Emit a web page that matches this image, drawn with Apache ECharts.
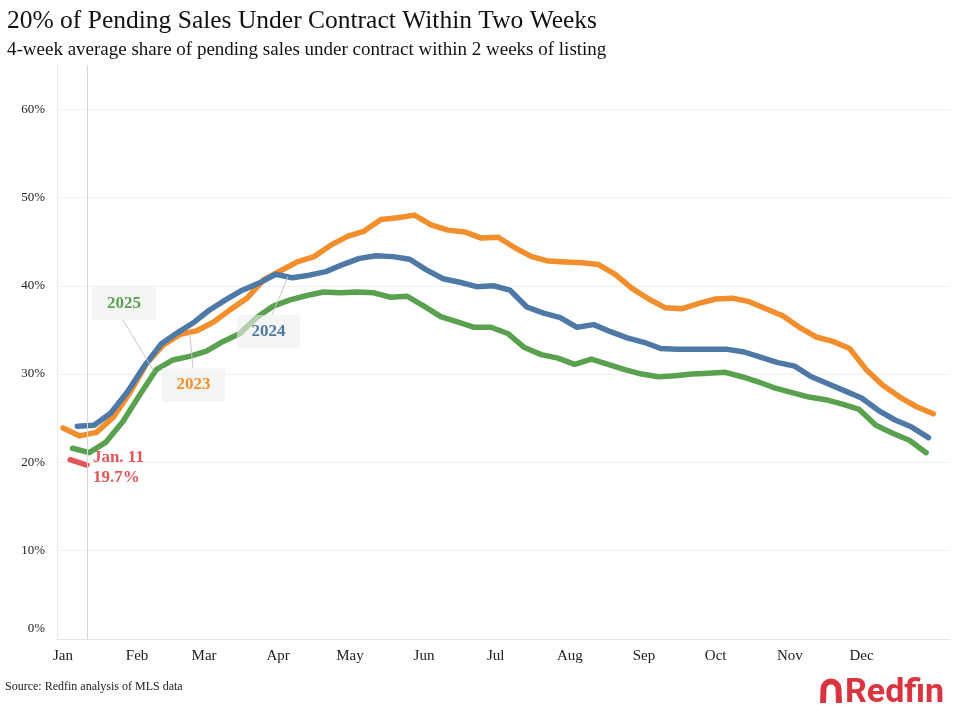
<!DOCTYPE html>
<html>
<head>
<meta charset="utf-8">
<script src="https://cdn.jsdelivr.net/npm/echarts@6/dist/echarts.min.js"></script>
<style>
html,body{margin:0;padding:0;background:#fff;}
#chart{width:955px;height:708px;}
</style>
</head>
<body>
<div id="chart"></div>
<script>
// ---- DATA (weekly, 4-week average share %, week ending Sundays) ----
const monthNames = ['Jan','Feb','Mar','Apr','May','Jun','Jul','Aug','Sep','Oct','Nov','Dec'];
const yTickLabels = ['0%','10%','20%','30%','40%','50%','60%'];

const start2023 = [2023, 0, 1];
const values2023 = [23.9,23.0,23.4,25.1,27.9,31.2,33.3,34.5,34.9,35.9,37.3,38.6,40.7,41.7,42.7,43.3,44.6,45.6,46.2,47.5,47.7,48.0,46.9,46.3,46.1,45.4,45.5,44.3,43.3,42.8,42.7,42.6,42.4,41.3,39.7,38.5,37.5,37.4,38.0,38.5,38.6,38.2,37.4,36.6,35.3,34.2,33.7,32.9,30.5,28.7,27.4,26.3,25.5];

const start2024 = [2024, 0, 7];
const values2024 = [24.1,24.2,25.6,28.0,30.9,33.4,34.7,35.9,37.2,38.4,39.5,40.3,41.3,40.9,41.2,41.6,42.4,43.1,43.4,43.3,43.0,41.8,40.8,40.4,39.9,40.0,39.5,37.6,36.9,36.4,35.3,35.6,34.8,34.1,33.6,32.9,32.8,32.8,32.8,32.8,32.5,31.9,31.3,30.9,29.7,28.9,28.1,27.3,25.9,24.8,24.0,22.8];

const start2025 = [2025, 0, 5];
const values2025 = [21.6,21.1,22.3,24.6,27.6,30.5,31.6,32.0,32.6,33.7,34.6,36.4,37.7,38.4,38.9,39.3,39.2,39.3,39.2,38.7,38.8,37.7,36.5,35.9,35.3,35.3,34.6,33.0,32.2,31.8,31.1,31.7,31.1,30.5,30.0,29.7,29.8,30.0,30.1,30.2,29.7,29.1,28.4,27.9,27.4,27.1,26.6,26.0,24.2,23.3,22.5,21.1];

const start2026 = [2026, 0, 4];
const values2026 = [20.3, 19.7];

const seriesNames = ['2023','2024','2025','2026'];
const seriesColors = ['#f28e2b','#4e79a7','#59a14f','#e15759'];

// ---- helpers ----
const REF_YEAR = 2023;
function weekly(start, values){
  return values.map((v,i)=>{
    const d = new Date(start[0], start[1], start[2] + 7*i);
    const r = new Date(REF_YEAR, d.getMonth(), d.getDate());
    return [r.getTime(), v];
  });
}
const DAY = 86400000;
const xMin = new Date(REF_YEAR-1, 11, 29, 12).getTime();
const xMax = new Date(REF_YEAR+1, 0, 7).getTime();
const jan11 = new Date(REF_YEAR, 0, 11).getTime();

const serif = '"Liberation Serif","Times New Roman",serif';

const chart = echarts.init(document.getElementById('chart'));

const data2023 = weekly(start2023, values2023);
const data2024 = weekly(start2024, values2024);
const data2025 = weekly(start2025, values2025);
const data2026 = weekly(start2026, values2026);

function lineSeries(name, data, color){
  return {
    name, type:'line', data, symbol:'none', smooth:false,
    lineStyle:{color, width:5.5, cap:'round', join:'round'},
    itemStyle:{color}, emphasis:{disabled:true}, animation:false
  };
}

const s0 = lineSeries(seriesNames[0], data2023, seriesColors[0]);
const s1 = lineSeries(seriesNames[1], data2024, seriesColors[1]);
const s2 = lineSeries(seriesNames[2], data2025, seriesColors[2]);
const s3 = lineSeries(seriesNames[3], data2026, seriesColors[3]);
s3.endLabel = {
  show:true, formatter:'Jan. 11\n' + values2026[values2026.length-1] + '%',
  color:seriesColors[3], fontFamily:serif, fontWeight:'bold', fontSize:17, lineHeight:20, distance:6, offset:[0,3]
};
s3.markLine = {
  silent:true, symbol:'none', label:{show:false},
  lineStyle:{color:'#d6d6d6', width:1, type:'solid'},
  data:[{xAxis: jan11}], animation:false
};
s3.z = 1;

const gridColors = ['#efefef','#efefef','#efefef','#efefef','#efefef','#efefef','#efefef','rgba(0,0,0,0)'];

chart.setOption({
  animation:false,
  backgroundColor:'#ffffff',
  title:[
    {text:'20% of Pending Sales Under Contract Within Two Weeks', left:2, top:3,
     textStyle:{fontFamily:serif, fontSize:25.5, fontWeight:'normal', color:'#111'}},
    {text:'4-week average share of pending sales under contract within 2 weeks of listing', left:2, top:36,
     textStyle:{fontFamily:serif, fontSize:19, fontWeight:'normal', color:'#111'}}
  ],
  grid:{left:57, right:5, top:65, bottom:69, containLabel:false},
  xAxis:{
    type:'time', min:xMin, max:xMax,
    minInterval:28*DAY, maxInterval:31*DAY,
    axisLine:{show:true, lineStyle:{color:'#e6e6e6'}},
    axisTick:{show:false},
    splitLine:{show:false},
    axisLabel:{
      fontFamily:serif, fontSize:15, color:'#222', margin:10,
      formatter:function(v){ const d=new Date(v); if(d.getFullYear()!==REF_YEAR||d.getDate()!==1) return ''; return monthNames[d.getMonth()]; }
    }
  },
  yAxis:{
    type:'value', min:0, max:65, interval:10,
    axisLine:{show:true, lineStyle:{color:'#ececec'}},
    axisTick:{show:false},
    splitLine:{show:true, lineStyle:{color:gridColors, width:1}},
    axisLabel:{
      fontFamily:serif, fontSize:13, color:'#222', margin:12, showMaxLabel:false,
      formatter:function(v){ const i=Math.round(v/10); if(v%10!==0) return ''; if(i===0) return '{zero|'+yTickLabels[0]+'}'; return yTickLabels[i]||''; },
      rich:{zero:{fontFamily:serif, fontSize:13, color:'#222', padding:[0,0,20,0]}}
    }
  },
  series:[s0,s1,s2,s3]
});

// ---- annotations anchored to data coordinates ----
function px(seriesIndex, t, v){ return chart.convertToPixel({seriesIndex}, [t, v]); }
const tags = [
  {text:'2025', color:seriesColors[2], box:[92,287,64,33], from:[123,320], anchor:px(2, new Date(REF_YEAR,1,8).getTime(), 30.3)},
  {text:'2023', color:seriesColors[0], box:[162,368,63,34], from:[193,368], anchor:px(0, new Date(REF_YEAR,1,23).getTime(), 34.6)},
  {text:'2024', color:seriesColors[1], box:[237,315,63,33], from:[272,315], anchor:px(1, new Date(REF_YEAR,3,5).getTime(), 41.0)}
];
const g = [];
tags.forEach(t=>{
  g.push({type:'rect', shape:{x:t.box[0], y:t.box[1], width:t.box[2], height:t.box[3]}, style:{fill:'rgba(238,238,238,0.6)'}, z:5});
  g.push({type:'line', shape:{x1:t.from[0], y1:t.from[1], x2:t.anchor[0], y2:t.anchor[1]}, style:{stroke:'#c8c8c8', lineWidth:1}, z:6});
  g.push({type:'text', x:t.box[0]+t.box[2]/2, y:t.box[1]+t.box[3]/2, style:{text:t.text, fill:t.color, font:'bold 17px '+serif, align:'center', verticalAlign:'middle'}, z:7});
});
g.push({type:'text', x:5, y:681, style:{text:'Source: Redfin analysis of MLS data', fill:'#222', font:'12px '+serif}, z:7});
// Redfin logo mark: arch with legs
g.push({type:'arc', shape:{cx:831, cy:689, r:7.5, startAngle:Math.PI, endAngle:Math.PI*2, clockwise:true}, style:{stroke:'#d9343f', lineWidth:6, fill:null, lineCap:'butt'}, z:7});
g.push({type:'polygon', shape:{points:[[820.5,689],[826.5,689],[826,703],[820,703]]}, style:{fill:'#d9343f'}, z:7});
g.push({type:'polygon', shape:{points:[[835.5,689],[841.5,689],[842,703],[836,703]]}, style:{fill:'#d9343f'}, z:7});
g.push({type:'text', x:845, y:676, style:{text:'Redfin', fill:'#d9343f', font:'bold 34px Roboto, "Liberation Sans", sans-serif'}, z:7});
chart.setOption({graphic:{elements:g}});
</script>
</body>
</html>
